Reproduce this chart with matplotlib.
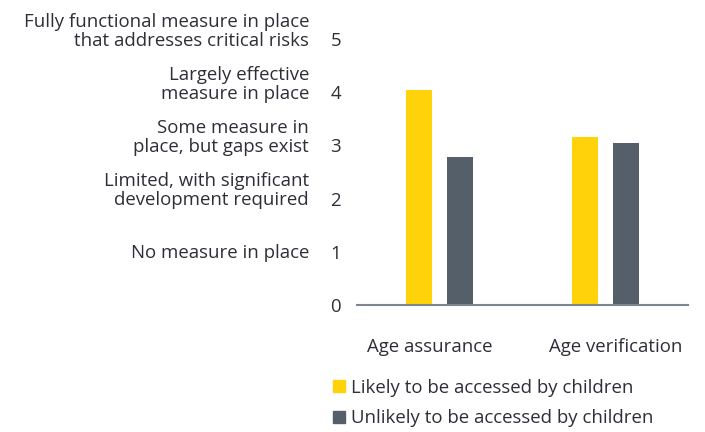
import matplotlib
matplotlib.use("Agg")
import matplotlib.pyplot as plt
import matplotlib.transforms as mtransforms
from matplotlib.patches import Patch
import numpy as np

categories = ["Age assurance", "Age verification"]
series_names = ["Likely to be accessed by children", "Unlikely to be accessed by children"]
likely = [4.04, 3.16]
unlikely = [2.78, 3.05]
ytick_values = [0, 1, 2, 3, 4, 5]
level_labels = {
    1: "No measure in place",
    2: "Limited, with significant\ndevelopment required",
    3: "Some measure in\nplace, but gaps exist",
    4: "Largely effective\nmeasure in place",
    5: "Fully functional measure in place\nthat addresses critical risks",
}

YELLOW = "#FFD20A"
GREY = "#555F6A"
TEXT = "#2E2E38"
AXIS = "#7D8590"
FONT = "Open Sans"
FS = 13.4

plt.rcParams['font.family'] = [FONT, 'DejaVu Sans']

fig = plt.figure(figsize=(7.05, 4.32), dpi=100)
ax = fig.add_axes([357/705, 1 - 305/432, 331/705, (305 - 39)/432])

x = np.arange(len(categories))
w = 0.158
off = 0.124
ax.bar(x - off, likely, width=w, color=YELLOW, label=series_names[0])
ax.bar(x + off, unlikely, width=w, color=GREY, label=series_names[1])

ax.set_xlim(-0.5, 1.5)
ax.set_ylim(0, 5)
for s in ["top", "right", "left"]:
    ax.spines[s].set_visible(False)
ax.spines["bottom"].set_color(AXIS)
ax.spines["bottom"].set_linewidth(1.5)

ax.set_yticks(ytick_values)
ax.set_yticklabels([str(v) for v in ytick_values], fontsize=FS, color=TEXT)
ax.tick_params(axis="y", left=False, pad=8)
ax.set_xticks(x)
ax.set_xticklabels(categories, fontsize=FS, color=TEXT)
ax.tick_params(axis="x", bottom=False, pad=20)
shifts = [-9.5, 10.5]
for lab, dx in zip(ax.get_xticklabels(), shifts):
    lab.set_transform(lab.get_transform() + mtransforms.ScaledTranslation(dx/100, 0, fig.dpi_scale_trans))

trans = mtransforms.blended_transform_factory(fig.transFigure, ax.transData)
trans = trans + mtransforms.ScaledTranslation(0, -6.5/100, fig.dpi_scale_trans)
for v, txt in level_labels.items():
    ax.text(309/705, v, txt, transform=trans, ha="right", va="baseline",
            fontsize=FS, color=TEXT, linespacing=1.05, multialignment="right")

handles = [Patch(color=YELLOW), Patch(color=GREY)]
fig.legend(handles, series_names, loc="upper left", bbox_to_anchor=(333/705, 1 - 379/432),
           frameon=False, fontsize=FS, labelcolor=TEXT, handlelength=0.62, handleheight=0.62,
           handletextpad=0.35, labelspacing=0.66, borderaxespad=0, borderpad=0)

fig.savefig("out.png", dpi=100)
